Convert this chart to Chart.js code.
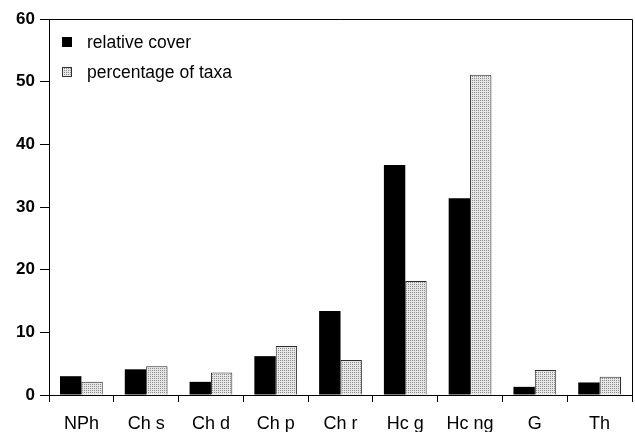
<!DOCTYPE html>
<html>
<head>
<meta charset="utf-8">
<script src="https://cdn.jsdelivr.net/npm/chart.js@4.4.1/dist/chart.umd.min.js"></script>
<style>
    html, body { margin: 0; padding: 0; background: #fff; }
    #wrap { width: 635px; height: 432px; }
</style>
</head>
<body>
<div id="wrap"><canvas id="lifeFormChart" width="635" height="432"></canvas></div>
<script>
const categories = ['NPh', 'Ch s', 'Ch d', 'Ch p', 'Ch r', 'Hc g', 'Hc ng', 'G', 'Th'];
const relativeCover = [3.0, 4.1, 2.1, 6.2, 13.4, 36.7, 31.4, 1.3, 2.0];
const percentageOfTaxa = [2.1, 4.6, 3.6, 7.8, 5.6, 18.2, 51.1, 4.0, 2.9];
const yTicks = [0, 10, 20, 30, 40, 50, 60];

// stippled grey fill like the printed figure
function makeDots() {
    const c = document.createElement('canvas');
    c.width = 2;
    c.height = 2;
    const g = c.getContext('2d');
    g.fillStyle = '#e6e6e6';
    g.fillRect(0, 0, 2, 2);
    g.fillStyle = '#8c8c8c';
    g.fillRect(0, 0, 1, 1);
    return g.createPattern(c, 'repeat');
}

document.addEventListener('DOMContentLoaded', () => {
    const ctx = document.getElementById('lifeFormChart').getContext('2d');
    const dots = makeDots();

    const frame = {
        id: 'frame',
        afterDraw(chart) {
            const a = chart.chartArea;
            const c = chart.ctx;
            c.save();
            c.strokeStyle = '#000';
            c.lineWidth = 1;
            c.beginPath();
            c.moveTo(a.left, a.top + 0.5);
            c.lineTo(a.right + 0.5, a.top + 0.5);
            c.lineTo(a.right + 0.5, a.bottom);
            c.stroke();
            c.restore();
        }
    };

    const boxLegend = {
        id: 'boxLegend',
        afterDraw(chart) {
            const c = chart.ctx;
            const a = chart.chartArea;
            c.save();
            c.font = '17.5px "Liberation Sans", Arial, sans-serif';
            c.textBaseline = 'middle';
            chart.data.datasets.forEach((ds, i) => {
                const x = a.left + 13;
                const y = a.top + 18 + i * 30;
                c.fillStyle = ds.backgroundColor;
                c.fillRect(x, y, 10, 10);
                if (i === 1) {
                    c.strokeStyle = '#333';
                    c.lineWidth = 1;
                    c.strokeRect(x + 0.5, y + 0.5, 9, 9);
                }
                c.fillStyle = '#000';
                c.fillText(ds.label, x + 25, y + 6);
            });
            c.restore();
        }
    };

    new Chart(ctx, {
        type: 'bar',
        data: {
            labels: categories,
            datasets: [{
                label: 'relative cover',
                data: relativeCover,
                backgroundColor: '#000',
                borderWidth: 0
            }, {
                label: 'percentage of taxa',
                data: percentageOfTaxa,
                backgroundColor: dots,
                borderColor: '#2a2a2a',
                borderWidth: 1
            }]
        },
        options: {
            responsive: false,
            animation: false,
            categoryPercentage: 0.66,
            barPercentage: 1,
            layout: { padding: { top: 19, right: 3, left: 0, bottom: 0 } },
            plugins: {
                legend: { display: false },
                tooltip: { enabled: false }
            },
            scales: {
                x: {
                    offset: true,
                    grid: {
                        offset: true,
                        drawOnChartArea: false,
                        tickLength: 7,
                        color: '#000'
                    },
                    border: { color: '#000', width: 1 },
                    ticks: {
                        color: '#000',
                        padding: 11,
                        font: { family: '"Liberation Sans", Arial, sans-serif', size: 18 }
                    },
                    afterFit(scale) { scale.height = 37; }
                },
                y: {
                    min: 0,
                    max: 60,
                    afterBuildTicks(scale) {
                        scale.ticks = yTicks.map(v => ({ value: v }));
                    },
                    grid: {
                        drawOnChartArea: false,
                        tickLength: 9,
                        color: '#000'
                    },
                    border: { color: '#000', width: 1 },
                    ticks: {
                        color: '#000',
                        padding: 5,
                        font: { family: '"Liberation Sans", Arial, sans-serif', size: 17, weight: 'bold' }
                    },
                    afterFit(scale) { scale.width = 49; }
                }
            }
        },
        plugins: [frame, boxLegend]
    });
});
</script>
</body>
</html>
